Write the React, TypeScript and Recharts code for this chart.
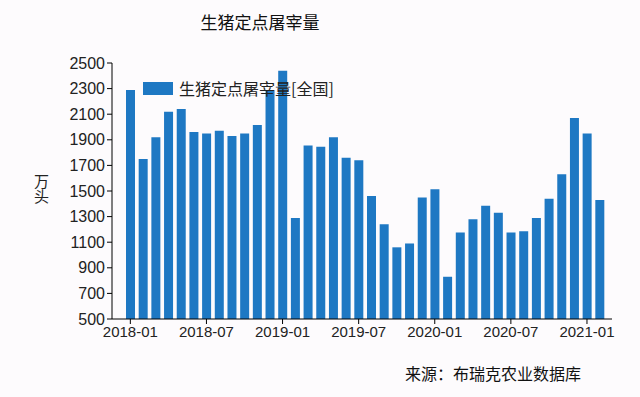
import { BarChart, Bar, XAxis, YAxis } from "recharts";

const months = [
  "2018-01", "2018-02", "2018-03", "2018-04", "2018-05", "2018-06",
  "2018-07", "2018-08", "2018-09", "2018-10", "2018-11", "2018-12",
  "2019-01", "2019-02", "2019-03", "2019-04", "2019-05", "2019-06",
  "2019-07", "2019-08", "2019-09", "2019-10", "2019-11", "2019-12",
  "2020-01", "2020-02", "2020-03", "2020-04", "2020-05", "2020-06",
  "2020-07", "2020-08", "2020-09", "2020-10", "2020-11", "2020-12",
  "2021-01", "2021-02",
];

const slaughter = [
  2290, 1750, 1920, 2120, 2140, 1960, 1950, 1970, 1930, 1950, 2015, 2285,
  2440, 1290, 1855, 1845, 1920, 1760, 1740, 1460, 1240, 1060, 1090, 1450,
  1513, 830, 1175, 1280, 1385, 1330, 1175, 1185, 1290, 1440, 1630, 2070,
  1950, 1430,
];

const yTicks = [500, 700, 900, 1100, 1300, 1500, 1700, 1900, 2100, 2300, 2500];

const seriesName = "生猪定点屠宰量[全国]";
const BLUE = "#1e78c3";
const FONT = '"Liberation Sans", Arial, "Noto Sans CJK SC", sans-serif';
const CJK = '"Noto Sans CJK SC", "Liberation Sans", sans-serif';

const data = months.map((m, i) => ({ month: m, value: slaughter[i] }));

export default function App() {
  return (
    <div
      style={{
        position: "fixed",
        left: 0,
        top: 0,
        width: 640,
        height: 397,
        background: "#fdfbfd",
        fontFamily: FONT,
      }}
    >
      <div
        style={{
          position: "absolute",
          left: 160,
          width: 200,
          top: 9,
          textAlign: "center",
          fontSize: 17,
          fontFamily: CJK,
          color: "#111",
        }}
      >
        生猪定点屠宰量
      </div>
      <div
        style={{
          position: "absolute",
          left: 31,
          top: 174,
          writingMode: "vertical-rl",
          fontSize: 15,
          fontFamily: CJK,
          color: "#222",
        }}
      >
        万头
      </div>
      <div
        style={{
          position: "absolute",
          left: 405,
          top: 361,
          fontSize: 16,
          fontFamily: CJK,
          color: "#111",
        }}
      >
        来源：布瑞克农业数据库
      </div>
      <BarChart
        width={640}
        height={397}
        data={data}
        margin={{ top: 63, right: 28, bottom: 48, left: 0 }}
      >
        <XAxis
          dataKey="month"
          interval={5}
          height={30}
          padding={{ left: 12, right: 6 }}
          axisLine={{ stroke: "#000" }}
          tickLine={{ stroke: "#000" }}
          tickSize={5}
          tick={{ fill: "#222", fontSize: 15, fontFamily: FONT }}
        />
        <YAxis
          type="number"
          domain={[500, 2500]}
          ticks={yTicks}
          interval={0}
          width={112}
          axisLine={{ stroke: "#000" }}
          tickLine={{ stroke: "#000" }}
          tickSize={5}
          tick={{ fill: "#222", fontSize: 16, fontFamily: FONT }}
        />
        <Bar
          dataKey="value"
          name={seriesName}
          fill={BLUE}
          barSize={9}
          isAnimationActive={false}
        />
      </BarChart>
      <div
        style={{
          position: "absolute",
          left: 143,
          top: 76,
          display: "flex",
          alignItems: "center",
          fontFamily: CJK,
        }}
      >
        <div style={{ width: 30, height: 13, background: BLUE, marginRight: 6 }} />
        <span style={{ fontSize: 16, color: "#222" }}>{seriesName}</span>
      </div>
    </div>
  );
}
